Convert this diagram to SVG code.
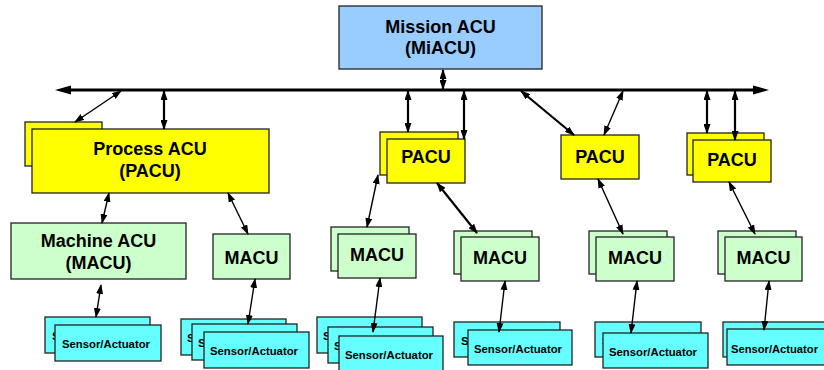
<svg xmlns="http://www.w3.org/2000/svg" width="824" height="370" viewBox="0 0 824 370">
<defs>
<marker id="ah" markerUnits="userSpaceOnUse" markerWidth="10" markerHeight="7" refX="9" refY="3.5" orient="auto-start-reverse" viewBox="0 0 10 7">
<path d="M0,0 L10,3.5 L0,7 z" fill="#000"/>
</marker>
</defs>
<style>
rect{stroke:#222;stroke-width:1.3}
.mi{fill:#99CCFF}
.pa{fill:#FFFF00}
.ma{fill:#CCFFCC}
.se{fill:#66FFFF}
text{font-family:"Liberation Sans",Arial,sans-serif;font-weight:bold;fill:#000}
.big{font-size:18px;text-anchor:middle}
.sm{font-size:11.6px}
.c line{stroke:#000;marker-start:url(#ah);marker-end:url(#ah)}
.t1{stroke-width:1.4}
.t2{stroke-width:2.2}
</style>

<g id="mission">
<rect class="mi" x="339" y="6" width="203" height="63"/>
<text class="big" x="440.5" y="33">Mission ACU</text>
<text class="big" x="440.5" y="54">(MiACU)</text>
</g>

<g id="process-acu">
<rect class="pa" x="25" y="122" width="77" height="44"/>
<rect class="pa" x="32" y="129" width="237" height="64"/>
<text class="big" x="150" y="155">Process ACU</text>
<text class="big" x="150" y="177">(PACU)</text>
</g>

<g id="pacu2">
<rect class="pa" x="380" y="132" width="78" height="43"/>
<rect class="pa" x="387" y="139" width="78" height="44"/>
<text class="big" x="426" y="163">PACU</text>
</g>

<g id="pacu3">
<rect class="pa" x="561" y="135" width="78" height="44"/>
<text class="big" x="600" y="163">PACU</text>
</g>

<g id="pacu4">
<rect class="pa" x="687" y="133" width="77" height="42"/>
<rect class="pa" x="693" y="140" width="78" height="42"/>
<text class="big" x="732" y="166">PACU</text>
</g>

<g id="machine-acu">
<rect class="ma" x="11" y="223" width="175" height="56"/>
<text class="big" x="98.5" y="247">Machine ACU</text>
<text class="big" x="98.5" y="269">(MACU)</text>
</g>

<g id="macu2">
<rect class="ma" x="213" y="234" width="77" height="45"/>
<text class="big" x="251.5" y="264">MACU</text>
</g>

<g id="macu3">
<rect class="ma" x="331" y="227" width="78" height="44"/>
<rect class="ma" x="338" y="234" width="78" height="44"/>
<text class="big" x="377" y="261">MACU</text>
</g>

<g id="macu4">
<rect class="ma" x="454" y="231" width="78" height="43"/>
<rect class="ma" x="461" y="237" width="78" height="44"/>
<text class="big" x="500" y="264">MACU</text>
</g>

<g id="macu5">
<rect class="ma" x="589" y="231" width="78" height="43"/>
<rect class="ma" x="596" y="237" width="78" height="44"/>
<text class="big" x="635" y="264">MACU</text>
</g>

<g id="macu6">
<rect class="ma" x="718" y="231" width="78" height="43"/>
<rect class="ma" x="725" y="237" width="77" height="44"/>
<text class="big" x="763.5" y="264">MACU</text>
</g>

<g id="sensors1">
<rect class="se" x="45" y="317" width="105" height="36"/>
<text class="sm" x="52" y="340">S</text>
<rect class="se" x="55" y="325" width="106" height="36"/>
<text class="sm" x="62" y="348" textLength="88" lengthAdjust="spacingAndGlyphs">Sensor/Actuator</text>
</g>

<g id="sensors2">
<rect class="se" x="181" y="319" width="105" height="36"/>
<text class="sm" x="187" y="342">S</text>
<rect class="se" x="192" y="324" width="105" height="36"/>
<text class="sm" x="198" y="347">S</text>
<rect class="se" x="204" y="332" width="105" height="36"/>
<text class="sm" x="210" y="355" textLength="88" lengthAdjust="spacingAndGlyphs">Sensor/Actuator</text>
</g>

<g id="sensors3">
<rect class="se" x="317" y="317" width="105" height="36"/>
<text class="sm" x="323" y="340">S</text>
<rect class="se" x="328" y="327" width="105" height="36"/>
<text class="sm" x="334" y="350">S</text>
<rect class="se" x="339" y="336" width="104" height="36"/>
<text class="sm" x="345" y="359" textLength="88" lengthAdjust="spacingAndGlyphs">Sensor/Actuator</text>
</g>

<g id="sensors4">
<rect class="se" x="454" y="322" width="106" height="35"/>
<text class="sm" x="461" y="345">S</text>
<rect class="se" x="468" y="330" width="104" height="35"/>
<text class="sm" x="474" y="353" textLength="88" lengthAdjust="spacingAndGlyphs">Sensor/Actuator</text>
</g>

<g id="sensors5">
<rect class="se" x="595" y="322" width="106" height="35"/>
<text class="sm" x="602" y="345">S</text>
<rect class="se" x="603" y="333" width="105" height="35"/>
<text class="sm" x="609" y="356" textLength="88" lengthAdjust="spacingAndGlyphs">Sensor/Actuator</text>
</g>

<g id="sensors6">
<rect class="se" x="723" y="322" width="106" height="35"/>
<rect class="se" x="727" y="329" width="106" height="36"/>
<text class="sm" x="731" y="353" textLength="87" lengthAdjust="spacingAndGlyphs">Sensor/Actuator</text>
</g>

<g id="connectors">
<g id="bus">
<line x1="68" y1="90" x2="756" y2="90" stroke="#000" stroke-width="3"/>
<polygon points="55,90 71,85.5 71,94.5" fill="#000"/>
<polygon points="769,90 753,85.5 753,94.5" fill="#000"/>
</g>
<g class="c">
<line class="t2" x1="443" y1="70" x2="443" y2="89"/>
<line class="t1" x1="121" y1="91" x2="75" y2="122"/>
<line class="t2" x1="164" y1="91" x2="164" y2="129"/>
<line class="t2" x1="408" y1="91" x2="408" y2="132"/>
<line class="t2" x1="464" y1="91" x2="464" y2="139"/>
<line class="t2" x1="521" y1="91" x2="574" y2="135"/>
<line class="t1" x1="623" y1="91" x2="604" y2="135"/>
<line class="t2" x1="707" y1="91" x2="707" y2="133"/>
<line class="t2" x1="735" y1="91" x2="735" y2="140"/>
<line class="t1" x1="109" y1="193" x2="102" y2="223"/>
<line class="t1" x1="228" y1="193" x2="248" y2="234"/>
<line class="t1" x1="378" y1="175" x2="367" y2="227"/>
<line class="t2" x1="437" y1="183" x2="477" y2="233"/>
<line class="t1" x1="598" y1="179" x2="623" y2="234"/>
<line class="t1" x1="729" y1="182" x2="755" y2="234"/>
<line class="t1" x1="101" y1="285" x2="96" y2="317"/>
<line class="t1" x1="255" y1="279" x2="248" y2="324"/>
<line class="t1" x1="380" y1="278" x2="373" y2="332"/>
<line class="t1" x1="505" y1="281" x2="499" y2="332"/>
<line class="t1" x1="637" y1="281" x2="631" y2="333"/>
<line class="t1" x1="769" y1="281" x2="764" y2="330"/>
</g>
</g>
</svg>
